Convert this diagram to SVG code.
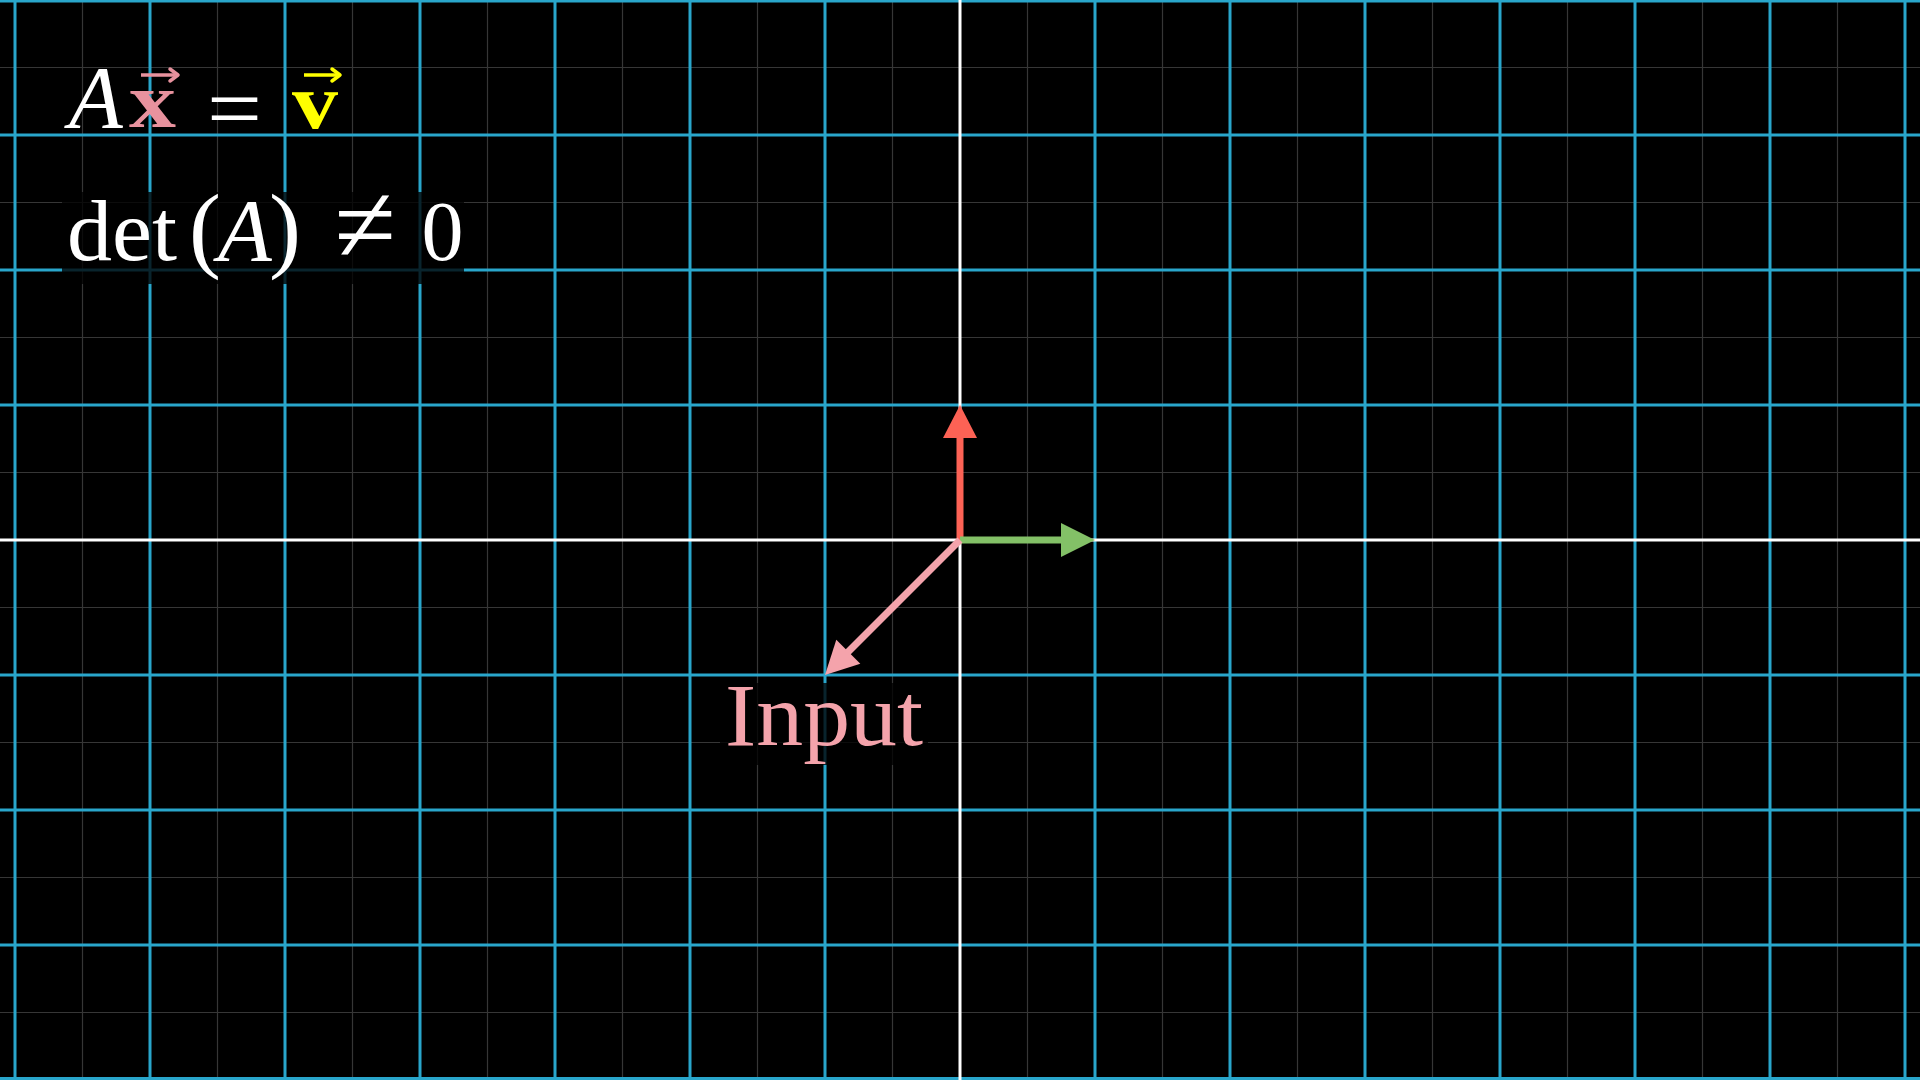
<svg xmlns="http://www.w3.org/2000/svg" width="1920" height="1080" viewBox="0 0 1920 1080">
<style>
.minor{stroke:#363636;stroke-width:1.2;fill:none}
.major{stroke:#29A6CB;stroke-width:3;fill:none}
.axis{stroke:#FFFFFF;stroke-width:3;fill:none}
.bg{fill:#000000;fill-opacity:0.78}
.serif{font-family:"Liberation Serif","DejaVu Serif",serif}
.w{fill:#FFFFFF}
</style>
<rect width="1920" height="1080" fill="#000000"/>
<g id="grid">
<path class="minor" d="M82.5 0V1080M217.5 0V1080M352.5 0V1080M487.5 0V1080M622.5 0V1080M757.5 0V1080M892.5 0V1080M1027.5 0V1080M1162.5 0V1080M1297.5 0V1080M1432.5 0V1080M1567.5 0V1080M1702.5 0V1080M1837.5 0V1080M0 67.5H1920M0 202.5H1920M0 337.5H1920M0 472.5H1920M0 607.5H1920M0 742.5H1920M0 877.5H1920M0 1012.5H1920"/>
<path class="major" d="M15 0V1080M150 0V1080M285 0V1080M420 0V1080M555 0V1080M690 0V1080M825 0V1080M1095 0V1080M1230 0V1080M1365 0V1080M1500 0V1080M1635 0V1080M1770 0V1080M1905 0V1080M0 1H1920M0 135H1920M0 270H1920M0 405H1920M0 675H1920M0 810H1920M0 945H1920M0 1078.5H1920"/>
<path class="axis" d="M960 0V1080M0 540H1920"/>
</g>
<g id="formula1">
<text class="serif w" x="96" y="127" font-size="88" font-style="italic" text-anchor="middle">A</text>
<text class="serif" x="129" y="127" font-size="78" font-weight="bold" fill="#E8929E" textLength="47" lengthAdjust="spacingAndGlyphs">x</text>
<path d="M141 75H175" stroke="#E8929E" stroke-width="3.5" fill="none"/>
<path d="M178 75L170 69M178 75L170 81" stroke="#E8929E" stroke-width="3.5" fill="none" stroke-linecap="round"/>
<text class="serif w" x="207" y="138" font-size="88" textLength="55" lengthAdjust="spacingAndGlyphs">=</text>
<text class="serif" x="292" y="128" font-size="78" font-weight="bold" fill="#FFFF00" textLength="46" lengthAdjust="spacingAndGlyphs">v</text>
<path d="M304 75H337" stroke="#FFFF00" stroke-width="3.5" fill="none"/>
<path d="M340 75L332 69M340 75L332 81" stroke="#FFFF00" stroke-width="3.5" fill="none" stroke-linecap="round"/>
</g>
<g id="formula2">
<rect class="bg" x="62" y="192" width="402" height="92"/>
<text class="serif w" x="67" y="260" font-size="86" textLength="110" lengthAdjust="spacingAndGlyphs">det</text>
<text class="serif w" x="205" y="260" font-size="96" text-anchor="middle">(</text>
<text class="serif w" x="245" y="260" font-size="88" font-style="italic" text-anchor="middle">A</text>
<text class="serif w" x="285" y="260" font-size="96" text-anchor="middle">)</text>
<text class="serif w" x="365" y="262" font-size="112" text-anchor="middle">≠</text>
<text class="serif w" x="442.5" y="260" font-size="84" text-anchor="middle">0</text>
</g>
<g id="vectors">
<path d="M960 540V436" stroke="#FC6255" stroke-width="7" fill="none"/>
<polygon points="960,405 943,438 977,438" fill="#FC6255"/>
<path d="M960 540H1063" stroke="#83C167" stroke-width="7" fill="none"/>
<polygon points="1095,540 1061,523 1061,557" fill="#83C167"/>
<path d="M960 540L844 656" stroke="#F4A3AB" stroke-width="7" fill="none"/>
<polygon points="825,675 860.3,663.7 836.3,639.7" fill="#F4A3AB"/>
</g>
<g id="input-label">
<rect class="bg" x="720" y="683" width="208" height="82"/>
<text class="serif" x="725" y="745" font-size="88" fill="#F4A3AB" textLength="198" lengthAdjust="spacingAndGlyphs">Input</text>
</g>
</svg>
